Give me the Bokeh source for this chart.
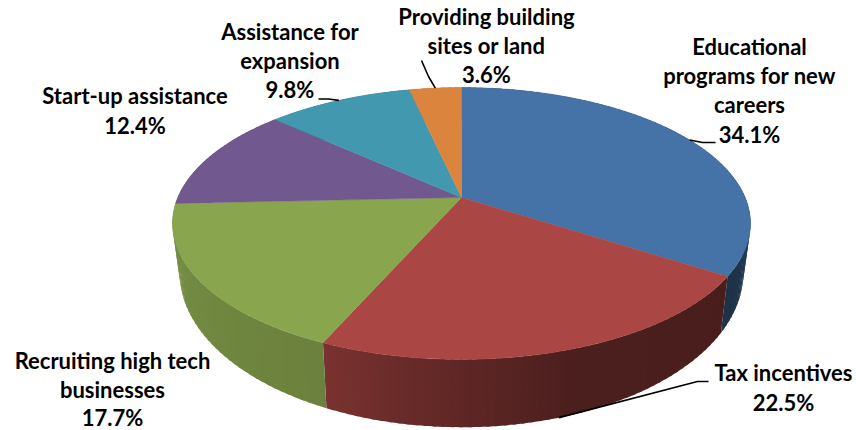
import numpy as np
from bokeh.plotting import figure
from bokeh.embed import file_html
from bokeh.resources import INLINE
from bokeh.core.properties import value

categories = ["Educational programs for new careers", "Tax incentives", "Recruiting high tech businesses",
              "Start-up assistance", "Assistance for expansion", "Providing building sites or land"]
shares = [34.1, 22.5, 17.7, 12.4, 9.8, 3.6]
top_colors = ["#4573A7", "#AA4643", "#89A54E", "#71588F", "#4198AF", "#DB843D"]
label_lines = [["Educational", "programs for new", "careers", "34.1%"], ["Tax incentives", "22.5%"],
               ["Recruiting high tech", "businesses", "17.7%"], ["Start-up assistance", "12.4%"],
               ["Assistance for", "expansion", "9.8%"], ["Providing building", "sites or land", "3.6%"]]

# perspective model of the tilted disc (page pixels)
CX, CY, A, B, K = 461.0, 197.0, 283.7, 131.0, 0.191
D, P, SHRINK = 46.3, 1.8, 0.975

def top_xy(deg, r=1.0):
    t = np.radians(deg)
    X, Y = r*np.sin(t), r*np.cos(t)
    w = 1 + K*Y
    return CX + A*X/w, CY - B*Y/w

def bottom_xy(deg):
    t = np.radians(deg)
    w = 1 + K*np.cos(t)
    u, v = top_xy(deg)
    return CX + (u-CX)*SHRINK, v + D/w**P

# shade of the outer wall per slice: (angle, factor) stops
shade_stops = {
    0: ([0, 90, 125], [0.5, 0.52, 0.42]),
    1: ([125, 160, 180, 204], [0.43, 0.44, 0.56, 0.72]),
    2: ([204, 230, 270], [0.78, 0.82, 0.88]),
    3: ([270, 300], [0.8, 0.8]), 4: ([300, 340], [0.8, 0.8]), 5: ([340, 360], [0.8, 0.8]),
}

def rgb(h, f):
    v = [int(h[i:i+2], 16) for i in (1, 3, 5)]
    return "#%02x%02x%02x" % tuple(int(round(c*f)) for c in v)

p = figure(width=856, height=430, x_range=(0, 856), y_range=(430, 0), output_backend="svg",
           toolbar_location=None, min_border=0, outline_line_color=None, background_fill_color="white")
p.margin = (0, 0, 0, 0)
p.axis.visible = False
p.grid.visible = False

edges = np.concatenate([[0], np.cumsum(shares)]) * 3.6
edges[-1] = 360.0

xs, ys, cols = [], [], []
for i, c in enumerate(top_colors):
    a0, a1 = edges[i], edges[i+1]
    n = max(4, int((a1-a0)/1.5))
    g = np.linspace(a0, a1, n+1)
    st = shade_stops[i]
    # strips run against the angle and overlap a little so that no seams show
    for s0, s1 in reversed(list(zip(g[:-1], g[1:]))):
        s2 = s1 + (0.6 if s1 < a1 else 0)
        ub0, vb0 = bottom_xy(s0); ub1, vb1 = bottom_xy(s2)
        ut0, vt0 = top_xy(s0); ut1, vt1 = top_xy(s2)
        xs.append([ut0, ut1, ub1, ub0]); ys.append([vt0, vt1, vb1, vb0])
        cols.append(rgb(c, float(np.interp((s0+s1)/2, st[0], st[1]))))
p.patches(xs, ys, fill_color=cols, line_color=None)

for i, c in enumerate(top_colors):
    g = np.linspace(edges[i], edges[i+1], 80)
    u, v = top_xy(g)
    p.patch(np.r_[CX, u], np.r_[CY, v], fill_color=c, line_color=c, line_width=0.4)

# label text: centre x, first baseline, line gap
label_pos = [(749, 45.5, 29.4), (783, 372, 30), (112, 360, 28.5), (134.5, 95, 29.5), (289.5, 31, 29), (486, 16, 29)]
tx, ty, tt = [], [], []
for lines, (x0, y0, gap) in zip(label_lines, label_pos):
    for j, s in enumerate(lines):
        tx.append(x0); ty.append(y0 + j*gap); tt.append(s)
p.text(tx, ty, text=tt, text_align="center", text_baseline="alphabetic", text_color="black",
       text_font=value("Lato"), text_font_style="bold", text_font_size="22px")

# leader lines from the rim at each slice's middle to its label
def mid(i):
    return (edges[i] + edges[i+1]) / 2

u0, v0 = top_xy(mid(0)); p.line([u0, 702, 715], [v0, 142, 142], line_color="black", line_width=1.6)
u1, v1 = bottom_xy(mid(1)); p.line([u1, 697, 708], [v1, 381, 381], line_color="black", line_width=1.6)
u4, v4 = top_xy(mid(4)); p.line([318, 328, u4], [98.5, 98.5, v4], line_color="black", line_width=1.6)
u5, v5 = top_xy(mid(5)); p.line([421, 428, u5], [60, 76, v5], line_color="black", line_width=1.6)

open("out.html", "w").write(file_html(p, INLINE))
